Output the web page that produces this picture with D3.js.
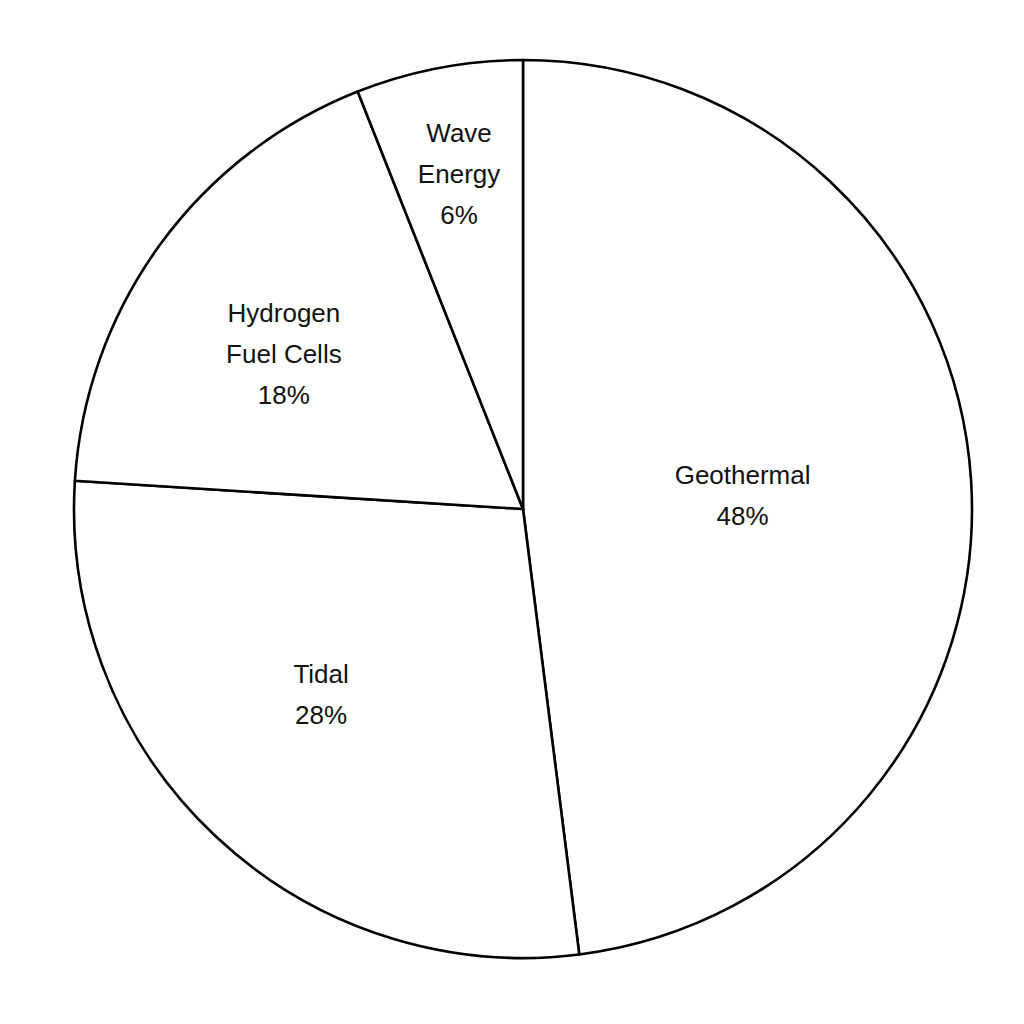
<!DOCTYPE html>
<html>
<head>
<meta charset="utf-8">
<script src="https://cdn.jsdelivr.net/npm/d3@7/dist/d3.min.js"></script>
<style>
  html, body { margin: 0; padding: 0; background: #ffffff; }
  svg { display: block; }
</style>
</head>
<body>
<script>
// ---- data ----
const categories = ["Geothermal", "Tidal", "Hydrogen Fuel Cells", "Wave Energy"];
const labelLines = [["Geothermal"], ["Tidal"], ["Hydrogen", "Fuel Cells"], ["Wave", "Energy"]];
const values = [48, 28, 18, 6];

// ---- layout (not data) ----
const W = 1024, H = 1024;
const cx = 523, cy = 509, R = 449;
const labelRadiusFactor = [0.49, 0.61, 0.635, 0.76];
const labelAngleShiftDeg = [0, 4.3, -3, 0];
const lineHeight = 41;

const svg = d3.select("body").append("svg")
  .attr("width", W).attr("height", H)
  .style("background", "#ffffff");

const g = svg.append("g").attr("transform", `translate(${cx},${cy})`);

const pie = d3.pie().sort(null).value(d => d)(values);
const arc = d3.arc().innerRadius(0).outerRadius(R);

g.selectAll("path.slice")
  .data(pie)
  .join("path")
  .attr("class", "slice")
  .attr("d", arc)
  .attr("fill", "#ffffff")
  .attr("stroke", "#000000")
  .attr("stroke-width", 2.6)
  .attr("stroke-linejoin", "round");

const labels = g.selectAll("g.label")
  .data(pie)
  .join("g")
  .attr("class", "label")
  .attr("transform", (d, i) => {
    const shift = labelAngleShiftDeg[i] * Math.PI / 180;
    const r = labelRadiusFactor[i] * R;
    const a = (d.startAngle + d.endAngle) / 2 + shift;
    const la = d3.arc().innerRadius(r).outerRadius(r).startAngle(a).endAngle(a);
    const [x, y] = la.centroid();
    return `translate(${x},${y})`;
  });

labels.each(function(d, i) {
  const lines = labelLines[i].concat([values[i] + "%"]);
  const n = lines.length;
  d3.select(this).selectAll("text")
    .data(lines)
    .join("text")
    .attr("x", 0)
    .attr("y", (t, j) => (j - (n - 1) / 2) * lineHeight)
    .attr("text-anchor", "middle")
    .attr("dominant-baseline", "central")
    .attr("font-family", "'Liberation Sans', Arial, sans-serif")
    .attr("font-size", 26)
    .attr("fill", "#111111")
    .text(t => t);
});
</script>
</body>
</html>
